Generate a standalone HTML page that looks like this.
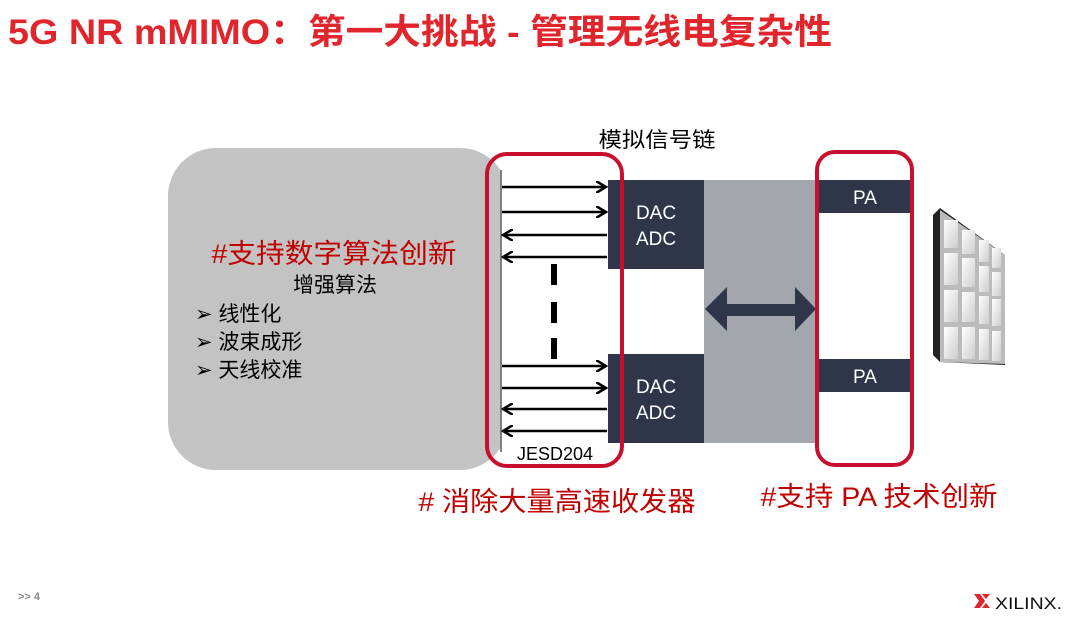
<!DOCTYPE html>
<html><head><meta charset="utf-8"><style>
html,body{margin:0;padding:0;background:#fff;}
svg{display:block;}
text{font-family:"Liberation Sans","Noto Sans CJK SC",sans-serif;}
</style></head><body>
<svg width="1080" height="624" viewBox="0 0 1080 624" xmlns="http://www.w3.org/2000/svg">
<defs>
<marker id="ah" markerWidth="12" markerHeight="12" refX="10" refY="6" orient="auto" markerUnits="userSpaceOnUse">
<path d="M0,0 L10,6 L0,12" fill="none" stroke="#000" stroke-width="2.5"/>
</marker>
<linearGradient id="cell" x1="0" y1="0" x2="1" y2="1"><stop offset="0" stop-color="#fff"/><stop offset="1" stop-color="#ccc"/></linearGradient>
</defs>
<text x="8" y="44" font-size="35" font-weight="bold" fill="#e0262c" textLength="824" lengthAdjust="spacingAndGlyphs">5G NR mMIMO：第一大挑战 - 管理无线电复杂性</text>

<rect x="168" y="148" width="340" height="322" rx="48" fill="#c3c3c3"/>
<text x="334" y="263" font-size="27" fill="#c00000" text-anchor="middle" textLength="245" lengthAdjust="spacingAndGlyphs">#支持数字算法创新</text>
<text x="335" y="292" font-size="21" fill="#000" text-anchor="middle">增强算法</text>
<text x="195" y="321" font-size="21" fill="#000">➢ 线性化</text>
<text x="195" y="349" font-size="21" fill="#000">➢ 波束成形</text>
<text x="195" y="377" font-size="21" fill="#000">➢ 天线校准</text>

<rect x="500" y="160" width="108" height="300" fill="#fff"/>
<line x1="501" y1="170" x2="501" y2="452" stroke="#555" stroke-width="1.5"/>

<text x="657" y="147" font-size="21" fill="#000" text-anchor="middle" textLength="117" lengthAdjust="spacingAndGlyphs">模拟信号链</text>
<rect x="608" y="180" width="208" height="263" fill="#a3a6ad"/>
<rect x="608" y="269" width="96" height="85" fill="#fff"/>
<rect x="608" y="180" width="96" height="89" fill="#2f364a"/>
<rect x="608" y="354" width="96" height="89" fill="#2f364a"/>
<text x="656" y="219" font-size="19" fill="#fff" text-anchor="middle">DAC</text>
<text x="656" y="245" font-size="19" fill="#fff" text-anchor="middle">ADC</text>
<text x="656" y="393" font-size="19" fill="#fff" text-anchor="middle">DAC</text>
<text x="656" y="419" font-size="19" fill="#fff" text-anchor="middle">ADC</text>

<rect x="816" y="180" width="96" height="263" fill="#fff"/>
<rect x="818" y="180" width="92" height="33" fill="#2f364a"/>
<rect x="818" y="359" width="92" height="33" fill="#2f364a"/>
<text x="865" y="204" font-size="19" fill="#fff" text-anchor="middle">PA</text>
<text x="865" y="383" font-size="19" fill="#fff" text-anchor="middle">PA</text>

<polygon points="705,309 727,287 727,304 795,304 795,287 816,309 795,331 795,316 727,316 727,331" fill="#2f364a"/>

<g stroke="#000" stroke-width="2.5" fill="none">
<line x1="502" y1="187" x2="606" y2="187" marker-end="url(#ah)"/>
<line x1="502" y1="212" x2="606" y2="212" marker-end="url(#ah)"/>
<line x1="607" y1="235" x2="503" y2="235" marker-end="url(#ah)"/>
<line x1="607" y1="257" x2="503" y2="257" marker-end="url(#ah)"/>
<line x1="502" y1="366" x2="606" y2="366" marker-end="url(#ah)"/>
<line x1="502" y1="388" x2="606" y2="388" marker-end="url(#ah)"/>
<line x1="607" y1="409" x2="503" y2="409" marker-end="url(#ah)"/>
<line x1="607" y1="431" x2="503" y2="431" marker-end="url(#ah)"/>
</g>
<g fill="#000">
<rect x="551" y="264" width="6" height="21"/>
<rect x="551" y="302" width="6" height="21"/>
<rect x="551" y="338" width="6" height="21"/>
</g>
<text x="555" y="460" font-size="18" fill="#000" text-anchor="middle">JESD204</text>

<rect x="487" y="154" width="135" height="312" rx="20" fill="none" stroke="#c8102e" stroke-width="4"/>
<rect x="817" y="152" width="95" height="313" rx="18" fill="none" stroke="#c8102e" stroke-width="4"/>

<text x="557" y="511" font-size="27" fill="#c00000" text-anchor="middle" textLength="277" lengthAdjust="spacingAndGlyphs"># 消除大量高速收发器</text>
<text x="879" y="506" font-size="27" fill="#c00000" text-anchor="middle" textLength="237" lengthAdjust="spacingAndGlyphs">#支持 PA 技术创新</text>

<g>
<polygon points="933,215 940,208 1005,255 1005,365 940,362 933,355" fill="#222"/>
<polygon points="940,210 1005,255 1005,364 940,362" fill="#bbb"/>
<g fill="url(#cell)">
<rect x="944" y="220" width="14" height="28"/><rect x="962" y="230" width="13" height="24"/><rect x="979" y="240" width="10" height="22"/><rect x="992" y="248" width="9" height="20"/>
<rect x="944" y="253" width="14" height="32"/><rect x="962" y="258" width="13" height="29"/><rect x="979" y="266" width="10" height="26"/><rect x="992" y="272" width="9" height="24"/>
<rect x="944" y="290" width="14" height="32"/><rect x="962" y="292" width="13" height="30"/><rect x="979" y="296" width="10" height="28"/><rect x="992" y="299" width="9" height="27"/>
<rect x="944" y="327" width="14" height="32"/><rect x="962" y="327" width="13" height="32"/><rect x="979" y="329" width="10" height="31"/><rect x="992" y="331" width="9" height="30"/>
</g>
</g>

<text x="18" y="600" font-size="11" font-weight="bold" fill="#888">&gt;&gt; 4</text>
<polygon points="974,594 980,594 985,601 980,608 974,608 979,601" fill="#e0262c"/>
<polygon points="982,594 990,594 986,599" fill="#e0262c"/>
<polygon points="982,608 990,608 986,603" fill="#e0262c"/>
<text x="995" y="609" font-size="17" fill="#111" textLength="67" lengthAdjust="spacingAndGlyphs">XILINX.</text>
</svg>
</body></html>
